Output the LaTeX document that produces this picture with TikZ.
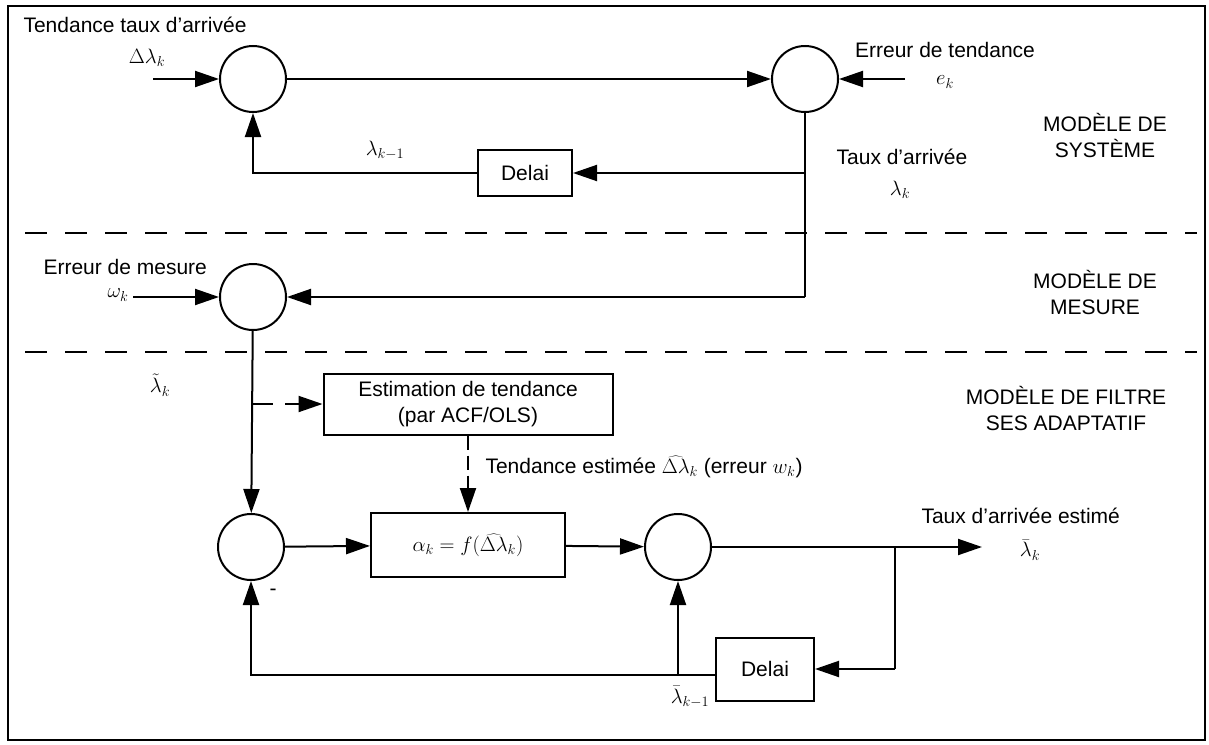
\documentclass[tikz,border=0pt]{standalone}
\usepackage{fontspec}
\setmainfont{Liberation Sans}
\usetikzlibrary{arrows.meta}
\begin{document}
\begin{tikzpicture}[x=1pt,y=-1pt,
  every node/.style={font=\fontsize{21}{26}\selectfont},
  sumnode/.style={circle,draw,line width=2pt,minimum size=66pt,inner sep=0pt},
  blk/.style={draw,line width=2pt,inner sep=0pt},
  flow/.style={line width=2pt,-{Triangle[length=24pt,width=16pt]}},
  wire/.style={line width=2pt},
  sep/.style={line width=1.5pt,dash pattern=on 22pt off 18pt}]
\useasboundingbox (0,0) rectangle (1209,744);
\draw[line width=2pt] (8,6) rectangle (1205,740);
% separators
\coordinate (sepa1) at (25,233);
\coordinate (sepa2) at (1197,233);
\coordinate (sepb1) at (25,352);
\coordinate (sepb2) at (1197,352);
\draw[sep] (sepa1) -- (sepa2);
\draw[sep] (sepb1) -- (sepb2);
% summing junctions
\node[sumnode] (s1) at (253,79) {};
\node[sumnode] (s2) at (805,79) {};
\node[sumnode] (s3) at (253,297) {};
\node[sumnode] (s4) at (251,547) {};
\node[sumnode] (s5) at (678,547) {};
% blocks
\node[blk,minimum width=94pt,minimum height=46pt] (d1) at (525,173) {Delai};
\node[blk,minimum width=289pt,minimum height=61pt,align=center] (est) at (468,404) {Estimation de tendance\\(par ACF/OLS)};
\node[blk,minimum width=194pt,minimum height=64pt] (cor) at (468,545) {$\alpha_k = f(\widehat{\Delta\lambda}_k)$};
\node[blk,minimum width=98pt,minimum height=63pt] (d2) at (765,669) {Delai};
% free ends and junctions
\coordinate (in1) at (153,79);
\coordinate (in2) at (905,79);
\coordinate (in3) at (133,297);
\coordinate (j1) at (805,173);
\coordinate (j2) at (805,297);
\coordinate (fb1) at (253,173);
\coordinate (j3) at (253,404);
\coordinate (out) at (982,547);
\coordinate (j4) at (895,547);
\coordinate (j5) at (895,669);
\coordinate (fb2) at (251,675);
\coordinate (j6) at (678,675);
% connectors
\draw[flow] (in1) -- (s1);
\draw[flow] (s1) -- (s2);
\draw[flow] (in2) -- (s2);
\draw[wire] (s2) -- (j2);
\draw[flow] (j2) -- (s3);
\draw[flow] (in3) -- (s3);
\draw[flow] (j1) -- (d1);
\draw[flow] (d1.west) -- (fb1) -- (s1);
\draw[flow] (s3) -- (s4);
\draw[flow,dash pattern=on 20pt off 12pt] (j3) -- (est);
\draw[flow,dash pattern=on 14pt off 6pt] (est) -- (cor);
\draw[flow] (s4) -- (cor);
\draw[flow] (cor) -- (s5);
\draw[flow] (s5) -- (out);
\draw[wire] (j4) -- (j5);
\draw[flow] (j5) -- (d2);
\draw[flow] (d2.west |- fb2) -- (fb2) -- (s4);
\draw[flow] (j6) -- (s5);
% labels
\node[anchor=west] (t1) at (20,25) {Tendance taux d'arrivée};
\node (t2) at (147,58) {$\Delta\lambda_k$};
\node (t3) at (945,50) {Erreur de tendance};
\node (t4) at (945,82) {$e_k$};
\node (t5) at (385,150) {$\lambda_{k-1}$};
\node (t6) at (902,157) {Taux d'arrivée};
\node (t7) at (900,190) {$\lambda_k$};
\node[align=center] (m1) at (1105,135) {MODÈLE DE\\SYSTÈME};
\node[anchor=west] (t8) at (40,267) {Erreur de mesure};
\node (t9) at (118,295) {$\omega_k$};
\node[align=center] (m2) at (1095,292) {MODÈLE DE\\MESURE};
\node (t10) at (160,385) {$\tilde{\lambda}_k$};
\node[align=center] (m3) at (1066,408) {MODÈLE DE FILTRE\\SES ADAPTATIF};
\node[anchor=west] (t11) at (482,467) {Tendance estimée $\widehat{\Delta\lambda}_k$ (erreur $w_k$)};
\node (t12) at (273,592) {-};
\node[anchor=west] (t13) at (918,516) {Taux d'arrivée estimé};
\node (t14) at (1030,550) {$\bar{\lambda}_k$};
\node (t15) at (690,697) {$\bar{\lambda}_{k-1}$};
\end{tikzpicture}
\end{document}
